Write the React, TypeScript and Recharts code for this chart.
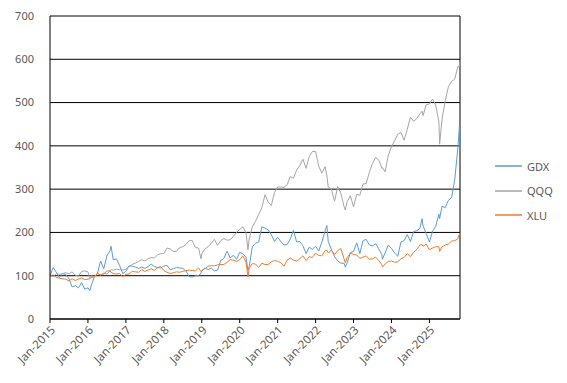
import { LineChart, Line, XAxis, YAxis, CartesianGrid, ReferenceLine } from 'recharts';

const START_YEAR = 2015;
const FONT = '"Noto Sans", sans-serif';
const TEXT_COLOR = '#595959';

const SERIES = ['GDX', 'QQQ', 'XLU'];
const COLORS: { [key: string]: string } = {
  GDX: '#5B9BD5',
  QQQ: '#A5A5A5',
  XLU: '#ED7D31',
};

// index level (Jan 2015 = 100), one value per month start, Jan-2015 .. Oct-2025
const gdxMonthly = [
  100, 119, 108, 96, 105, 103, 93, 74, 77, 72, 84, 69,
  72, 76, 97, 105, 134, 116, 146, 158, 137, 139, 124, 105,
  110, 123, 122, 120, 117, 120, 117, 121, 127, 121, 119, 118,
  122, 124, 114, 116, 119, 118, 117, 111, 98, 97, 100, 100,
  111, 118, 114, 118, 111, 113, 135, 140, 157, 141, 147, 138,
  154, 151, 143, 121, 167, 175, 178, 213, 210, 206, 195, 179,
  189, 179, 171, 172, 185, 205, 178, 179, 169, 151, 166, 161,
  168, 157, 178, 203, 179, 161, 144, 134, 129, 129, 130, 153,
  156, 176, 151, 181, 184, 171, 169, 174, 162, 148, 153, 171,
  163, 152, 145, 178, 181, 195, 179, 202, 204, 209, 215, 197,
  178, 203, 214, 242, 261, 257, 274, 280, 321, 395,
];

const qqqMonthly = [
  100, 98, 105, 103, 105, 107, 104, 109, 101, 99, 110, 111,
  109, 100, 98, 106, 101, 106, 104, 111, 113, 115, 114, 113,
  115, 121, 126, 129, 133, 137, 134, 139, 142, 141, 148, 151,
  151, 164, 162, 156, 156, 165, 167, 172, 181, 181, 165, 164,
  150, 162, 167, 175, 184, 170, 181, 186, 182, 183, 191, 200,
  207, 213, 199, 185, 213, 226, 241, 257, 287, 270, 262, 292,
  305, 305, 304, 310, 329, 325, 344, 354, 369, 348, 375, 387,
  387, 353, 337, 352, 305, 300, 272, 306, 290, 260, 271, 285,
  259, 288, 286, 312, 313, 339, 359, 373, 367, 348, 340, 378,
  398, 412, 427, 431, 413, 438, 466, 457, 463, 474, 470, 495,
  497, 508, 494, 456, 462, 504, 536, 549, 554, 583,
];

const xluMonthly = [
  100, 102, 96, 94, 93, 92, 88, 93, 89, 92, 95, 91,
  92, 96, 97, 105, 102, 104, 111, 111, 105, 104, 105, 98,
  103, 104, 110, 109, 108, 114, 110, 113, 116, 112, 119, 121,
  112, 108, 105, 107, 109, 108, 110, 112, 113, 112, 111, 118,
  112, 116, 122, 123, 123, 125, 126, 126, 131, 137, 136, 133,
  137, 146, 131, 117, 128, 127, 119, 129, 126, 126, 132, 135,
  133, 130, 122, 136, 141, 136, 134, 139, 146, 135, 144, 142,
  152, 147, 146, 158, 153, 159, 149, 158, 163, 139, 142, 152,
  149, 148, 140, 143, 146, 138, 139, 143, 135, 125, 127, 133,
  134, 131, 132, 139, 142, 151, 144, 154, 161, 171, 168, 173,
  160, 164, 167, 167, 167, 171, 173, 180, 181, 185,
];

// intra-month highs / lows that the monthly points miss
const extraDates = [
  '2016-01-20', '2016-08-11', '2018-12-24', '2020-03-20', '2022-04-18', '2022-10-13',
  '2023-10-05', '2024-10-22', '2025-04-08', '2025-10-16', '2025-10-22',
];
const gdxExtra = [66, 168, 106, 112, 216, 120, 138, 232, 232, 444, 388];
const qqqExtra = [94, 114, 139, 160, 331, 252, 350, 480, 404, 583, 594];
const xluExtra = [93, 108, 110, 98, 159, 130, 120, 172, 156, 197, 196];

const yTicks = [0, 100, 200, 300, 400, 500, 600, 700];
const xTicks = [0, 12, 24, 36, 48, 60, 72, 84, 96, 108, 120];

const toMonths = (date: string) => {
  const [y, m, d] = date.split('-').map(Number);
  const days = new Date(y, m, 0).getDate();
  return (y - START_YEAR) * 12 + (m - 1) + (d - 1) / days;
};

const data = [
  ...gdxMonthly.map((v, i) => ({ t: i, GDX: v, QQQ: qqqMonthly[i], XLU: xluMonthly[i] })),
  ...extraDates.map((d, i) => ({ t: toMonths(d), GDX: gdxExtra[i], QQQ: qqqExtra[i], XLU: xluExtra[i] })),
].sort((a, b) => a.t - b.t);

const tMax = data[data.length - 1].t;

const XTick = ({ x, y, payload }: any) => {
  const label = `Jan-${START_YEAR + Math.round(payload.value / 12)}`;
  return (
    <g transform={`translate(${x + 3},${y + 3}) rotate(-45)`}>
      <text x={0} y={0} dy="0.35em" textAnchor="end" fill={TEXT_COLOR} fontSize={11.5} fontFamily={FONT}>
        {label}
      </text>
    </g>
  );
};

export default function App() {
  return (
    <div style={{ position: 'relative', width: 567, height: 383, background: '#fff' }}>
      <style>{'body { margin: 0; }'}</style>
      <LineChart width={567} height={383} data={data} margin={{ top: 16, right: 107, left: 0, bottom: 0 }}>
        <CartesianGrid vertical={false} stroke="#000" strokeWidth={1} />
        <XAxis
          dataKey="t"
          type="number"
          domain={[0, tMax]}
          ticks={xTicks}
          height={64}
          axisLine={{ stroke: '#000' }}
          tickLine={{ stroke: '#000' }}
          tickSize={4}
          tick={<XTick />}
          interval={0}
        />
        <YAxis
          domain={[0, 700]}
          ticks={yTicks}
          width={50}
          axisLine={{ stroke: '#000' }}
          tickLine={false}
          tickMargin={10}
          tick={{ fill: TEXT_COLOR, fontSize: 11, fontFamily: FONT }}
        />
        <ReferenceLine x={tMax} stroke="#000" />
        {SERIES.map((s) => (
          <Line
            key={s}
            type="linear"
            dataKey={s}
            stroke={COLORS[s]}
            strokeWidth={1}
            dot={false}
            isAnimationActive={false}
          />
        ))}
      </LineChart>
      <div
        style={{
          position: 'absolute',
          left: 495,
          top: 154,
          fontFamily: FONT,
          fontSize: 11,
          color: TEXT_COLOR,
        }}
      >
        {SERIES.map((s) => (
          <div key={s} style={{ display: 'flex', alignItems: 'center', height: 24.6 }}>
            <svg width={27} height={4} style={{ marginRight: 5 }}>
              <line x1={0} y1={2} x2={27} y2={2} stroke={COLORS[s]} strokeWidth={1.5} />
            </svg>
            {s}
          </div>
        ))}
      </div>
    </div>
  );
}
